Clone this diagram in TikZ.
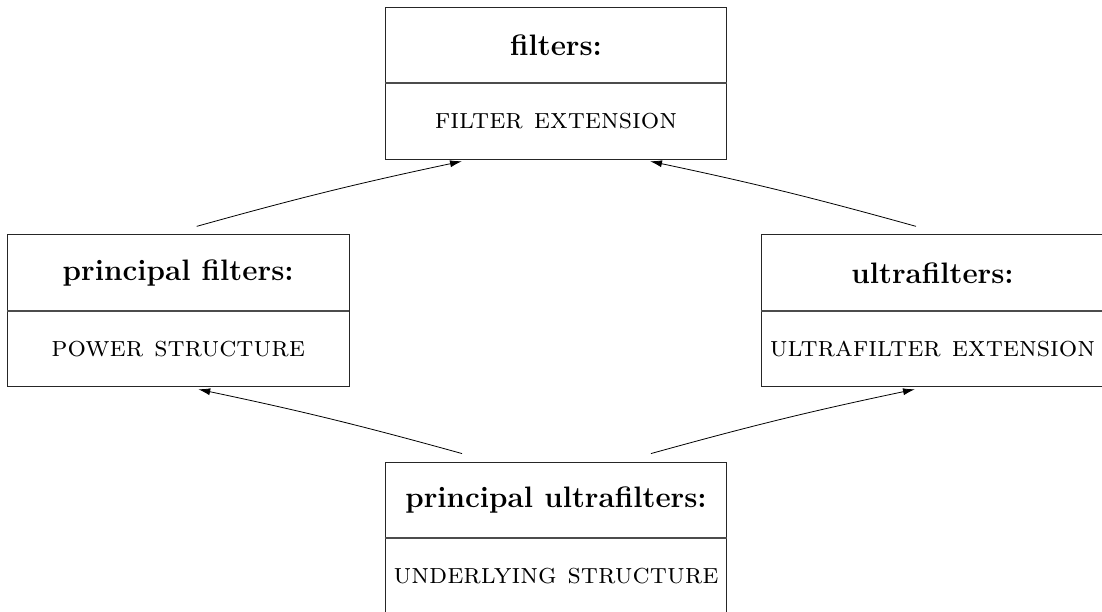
\documentclass[tikz,border=0pt]{standalone}
\usetikzlibrary{arrows.meta,calc}
\begin{document}
\begin{tikzpicture}[x=1pt,y=-1pt,
  box/.style={draw=black!85,line width=0.9pt,minimum width=341.5pt,minimum height=152pt,inner sep=0pt},
  divider/.style={draw=black!70,line width=1.8pt},
  head/.style={font=\fontsize{29.6}{35}\selectfont\bfseries,inner sep=0pt},
  body/.style={font=\fontsize{29}{34}\selectfont\scshape,inner sep=0pt},
  conn/.style={line width=0.8pt,-{Latex[length=12pt,width=7pt]}}]
\useasboundingbox (0,0) rectangle (1102,611);
\clip (0,0) rectangle (1102,611);
% boxes
\node[box] (F) at (556,83.3) {};
\node[box] (P) at (178.2,310.8) {};
\node[box] (U) at (932.5,310.8) {};
\node[box] (PU) at (556,538) {};
\foreach \n in {F,P,U,PU}{\draw[divider] (\n.west) -- (\n.east);}
% texts
\node[head] (Fh) at ($(F.center)+(0,-38)$) {filters:};
\node[body] (Fb) at ($(F.center)+(0,38)$) {filter extension};
\node[head] (Ph) at ($(P.center)+(0,-38)$) {principal filters:};
\node[body] (Pb) at ($(P.center)+(0,38)$) {power structure};
\node[head] (Uh) at ($(U.center)+(0,-38)$) {ultrafilters:};
\node[body] (Ub) at ($(U.center)+(0,38)$) {ultrafilter extension};
\node[head] (PUh) at ($(PU.center)+(0,-38)$) {principal ultrafilters:};
\node[body] (PUb) at ($(PU.center)+(0,38)$) {underlying structure};
% connectors
\draw[conn] ([xshift=18.5pt,yshift=8pt]P.north) to[bend left=1.8] ([xshift=-94pt,yshift=-1.5pt]F.south);
\draw[conn] ([xshift=-16.5pt,yshift=8pt]U.north) to[bend right=1.8] ([xshift=94pt,yshift=-1.5pt]F.south);
\draw[conn] ([xshift=-94pt,yshift=8pt]PU.north) to[bend right=1.8] ([xshift=20pt,yshift=-2pt]P.south);
\draw[conn] ([xshift=95pt,yshift=8pt]PU.north) to[bend left=1.8] ([xshift=-17.5pt,yshift=-2pt]U.south);
\end{tikzpicture}
\end{document}
